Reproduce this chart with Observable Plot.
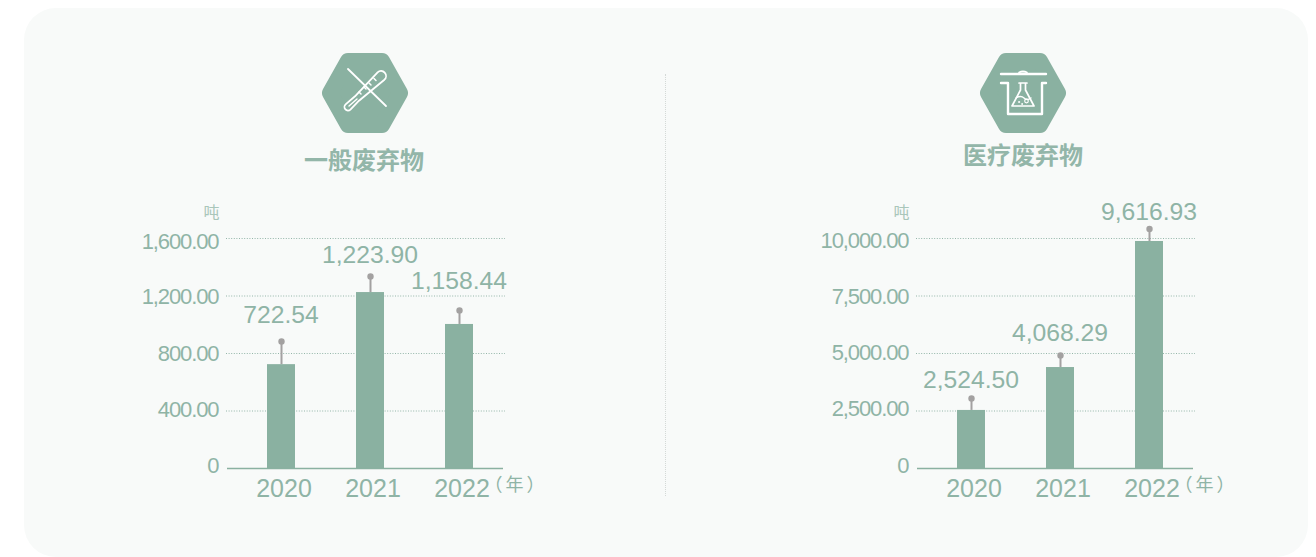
<!DOCTYPE html>
<html lang="zh">
<head>
<meta charset="utf-8">
<script src="https://cdn.jsdelivr.net/npm/d3@7"></script>
<script src="https://cdn.jsdelivr.net/npm/@observablehq/plot@0.6"></script>
<style>
html,body{margin:0;padding:0;background:#fff;width:1316px;height:557px;overflow:hidden}
#stage{position:relative;width:1316px;height:557px;overflow:hidden;font-family:"Liberation Sans",Arial,sans-serif}
#panel{position:absolute;left:24px;top:8px;width:1284px;height:549px;background:#f8faf9;border-radius:32px}
#divider{position:absolute;left:665px;top:74px;height:422px;border-left:1px dotted #d4d9d7}
.ttl{position:absolute;font:700 24px/30px "Noto Sans CJK SC",sans-serif;color:#93b6a9;width:200px;text-align:center;margin:0}
.icon{position:absolute;top:53px;width:88px;height:80px;overflow:visible}
.plotbox{position:absolute;top:0;width:658px;height:557px}
.plotbox svg{background:transparent;overflow:visible}
</style>
</head>
<body>
<div id="stage">
  <div id="panel"></div>
  <div id="divider"></div>
  <svg class="icon" style="left:321px" viewBox="-44 -40 88 80">
    <polygon points="-17,-32 17,-32 35,0 17,32 -17,32 -35,0" fill="#8ab1a1" stroke="#8ab1a1" stroke-width="16" stroke-linejoin="round"/>
    <g fill="none" stroke="#fff" stroke-width="1.8" stroke-linecap="round" stroke-linejoin="round">
      <path d="M-17,-24 L21,13"/>
      <path d="M12.6,-20.7 A5,5 0 0 1 19.4,-13.3 L-6,7.7 L-14.6,16.6 A3.5,3.5 0 0 1 -19.4,11.4 L-10,3.3 Z"/>
      <path d="M-16,13 L-8,6" stroke-width="1.4"/>
      <path d="M-6,-1 L-4,1 M-1,-6 L1,-4 M4,-10 L6,-8 M9,-14.5 L11,-12.5" stroke-width="1.5"/>
    </g>
  </svg>
  <svg class="icon" style="left:979px" viewBox="-44 -40 88 80">
    <polygon points="-17,-32 17,-32 35,0 17,32 -17,32 -35,0" fill="#8ab1a1" stroke="#8ab1a1" stroke-width="16" stroke-linejoin="round"/>
    <g fill="none" stroke="#fff" stroke-width="2.4" stroke-linecap="round" stroke-linejoin="round">
      <path d="M-22,-19 L23,-19"/>
      <path d="M-4,-20.5 Q0,-23 4,-20.5" fill="#fff" stroke-width="1.6"/>
      <path d="M-22,-10 L-15,-10 L-15,21 L19,21 L19,-10 L23,-10"/>
      <path d="M-4,-10 L4,-10 M-2.5,-10 L-2.5,-3 L-11,13 L11,13 L2.5,-3 L2.5,-10" stroke-width="1.7"/>
      <path d="M-7,5 Q-2,2 1,5 T8,5" stroke-width="1.3"/>
      <circle cx="3.5" cy="8" r="1.8" stroke-width="1.2"/>
      <circle cx="-4" cy="9" r="0.6" stroke-width="1"/>
      <circle cx="-1" cy="11" r="0.5" stroke-width="1"/>
    </g>
  </svg>
  <h2 class="ttl" style="left:264px;top:144px">一般废弃物</h2>
  <h2 class="ttl" style="left:923px;top:139px">医疗废弃物</h2>
  <div id="left" class="plotbox" style="left:0"></div>
  <div id="right" class="plotbox" style="left:658px"></div>
</div>
<script>
const years = ["2020", "2021", "2022"];

const generalLabels = ["722.54", "1,223.90", "1,158.44"];
const generalBars = [722.5, 1224, 1002];
const generalPins = [883, 1336, 1100];
const generalLabelAt = [1064, 1482, 1301];
const generalTicks = [0, 400, 800, 1200, 1600];
const generalTickText = ["0", "400.00", "800.00", "1,200.00", "1,600.00"];
const generalTickAt = [21, 410, 800, 1190, 1579];

const medicalLabels = ["2,524.50", "4,068.29", "9,616.93"];
const medicalBars = [2524.5, 4390, 9870];
const medicalPins = [3043, 4913, 10413];
const medicalLabelAt = [3826, 5870, 11130];
const medicalTicks = [0, 2500, 5000, 7500, 10000];
const medicalTickText = ["0", "2,500.00", "5,000.00", "7,500.00", "10,000.00"];
const medicalTickAt = [130, 2609, 5043, 7478, 9913];

const BAR = "#8ab1a1", TXT = "#8fb4a6", PIN = "#a3a1a1", GRID = "#94b6a9";
const YEAR_UNIT = "（年）";

function chart(o) {
  const rows = years.map((y, i) => ({year: y, bar: o.bars[i], pin: o.pins[i], at: o.labelAt[i], label: o.labels[i], zero: 0}));
  const tickRows = o.ticks.map((t, i) => ({at: o.tickAt[i], text: o.tickText[i]}));
  const yTop = o.ticks[o.ticks.length - 1];
  const svg = Plot.plot({
    width: 658, height: 557,
    marginLeft: o.ml, marginRight: o.mr, marginTop: 238, marginBottom: 89,
    style: {background: "transparent", fontFamily: '"Liberation Sans",Arial,sans-serif'},
    x: {domain: years, range: o.xr, paddingInner: 0.686, paddingOuter: 0.343, axis: null},
    y: {domain: [0, yTop], axis: null},
    marks: [
      Plot.ruleY(o.ticks.slice(1), {stroke: GRID, strokeWidth: 1, strokeDasharray: "1 1.6"}),
      Plot.barY(rows, {x: "year", y: "bar", fill: BAR}),
      Plot.ruleY([0], {stroke: BAR, strokeWidth: 1.6, insetLeft: 1, insetRight: 2}),
      Plot.ruleX(rows, {x: "year", y1: "bar", y2: "pin", stroke: PIN, strokeWidth: 2}),
      Plot.dot(rows, {x: "year", y: "pin", r: 3.2, fill: PIN}),
      Plot.text(rows, {x: "year", y: "at", text: "label", dx: -0.5, fontSize: 24.7, fill: TXT, lineAnchor: "middle"}),
      Plot.text(tickRows, {frameAnchor: "left", dx: -8, y: "at", text: "text", textAnchor: "end", lineAnchor: "middle", fontSize: 22, fill: TXT}),
      Plot.text(rows, {x: "year", y: "zero", dy: 20, dx: 2.5, text: "year", fontSize: 25, fill: TXT, lineAnchor: "middle"}),
      Plot.text(["吨"], {frameAnchor: "top-left", dx: -23, dy: -26, fontSize: 16, fill: "#a9c6ba", lineAnchor: "middle", fontFamily: '"Noto Sans CJK SC",sans-serif'}),
      Plot.text([YEAR_UNIT], {frameAnchor: "bottom-right", dx: 42, dy: 17, fontSize: 18, fill: TXT, lineAnchor: "middle", fontFamily: '"Noto Sans CJK SC",sans-serif'})
    ]
  });
  svg.querySelectorAll("text").forEach(t => {
    if (o.tickText.includes(t.textContent)) t.style.letterSpacing = "-1.1px";
    if (t.textContent === YEAR_UNIT) t.style.letterSpacing = "3px";
  });
  return svg;
}

document.getElementById("left").append(chart({
  bars: generalBars, pins: generalPins, labelAt: generalLabelAt, labels: generalLabels,
  ticks: generalTicks, tickAt: generalTickAt, tickText: generalTickText,
  ml: 226, mr: 153, xr: [236, 503.75]
}));
document.getElementById("right").append(chart({
  bars: medicalBars, pins: medicalPins, labelAt: medicalLabelAt, labels: medicalLabels,
  ticks: medicalTicks, tickAt: medicalTickAt, tickText: medicalTickText,
  ml: 258, mr: 121, xr: [267.9, 535.6]
}));
</script>
</body>
</html>
